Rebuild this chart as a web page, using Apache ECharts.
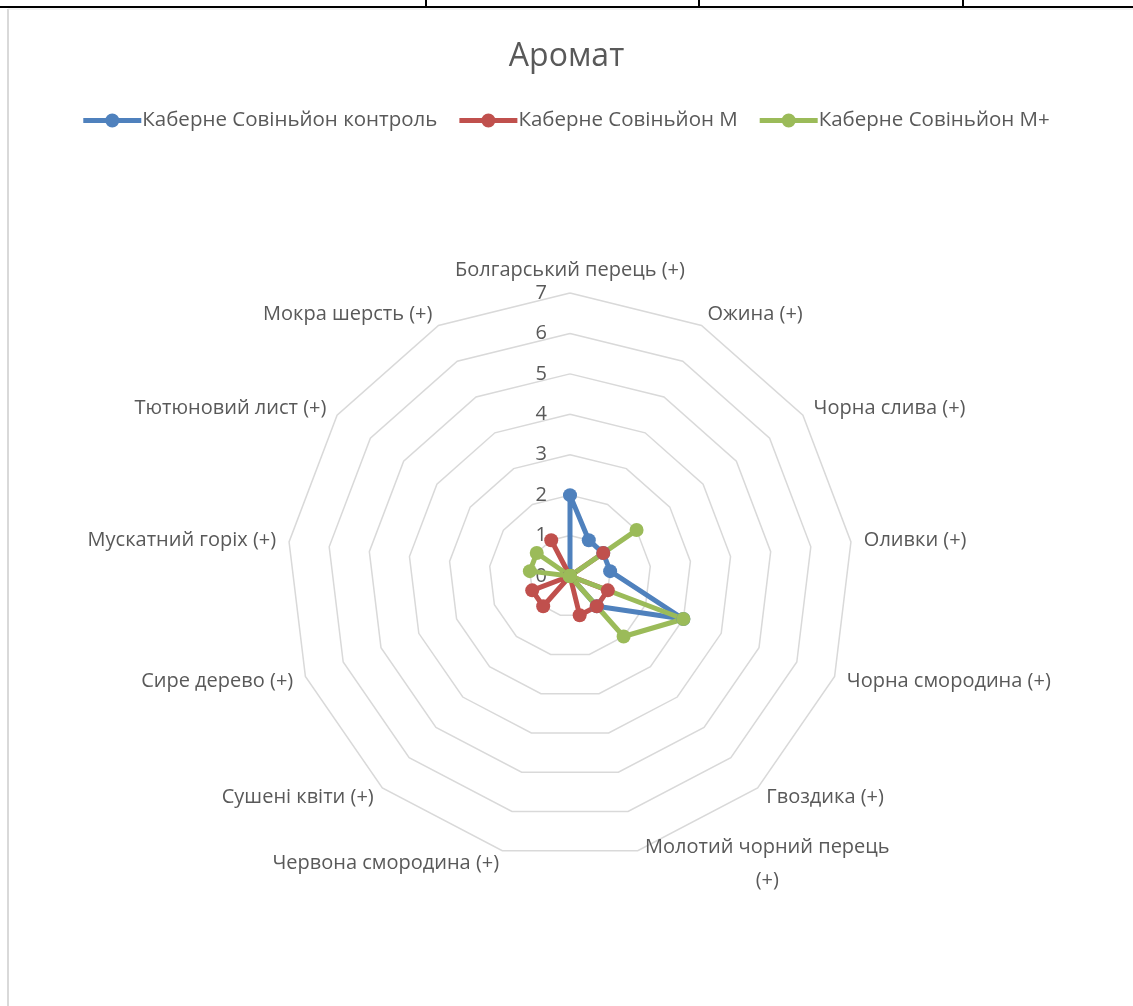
<!DOCTYPE html>
<html>
<head>
<meta charset="utf-8">
<title>Аромат</title>
<script src="https://cdn.jsdelivr.net/npm/echarts@6/dist/echarts.min.js"></script>
<style>
  html, body { margin: 0; padding: 0; background: #ffffff; }
  #chart { width: 1133px; height: 1006px; }
</style>
</head>
<body>
<div id="chart"></div>
<script>
// Aroma descriptors, clockwise from the top
const categories = [
  'Болгарський перець (+)',
  'Ожина (+)',
  'Чорна слива (+)',
  'Оливки (+)',
  'Чорна смородина (+)',
  'Гвоздика (+)',
  'Молотий чорний перець\n(+)',
  'Червона смородина (+)',
  'Сушені квіти (+)',
  'Сире дерево (+)',
  'Мускатний горіх (+)',
  'Тютюновий лист (+)',
  'Мокра шерсть (+)'
];

const seriesNames = ['Каберне Совіньйон контроль', 'Каберне Совіньйон М', 'Каберне Совіньйон М+'];
const controlValues = [2, 1, 1, 1, 3, 1, 0, 0, 0, 0, 0, 0, 0];
const mValues       = [0, 0, 1, 0, 1, 1, 1, 0, 1, 1, 0, 0, 1];
const mPlusValues   = [0, 0, 2, 0, 3, 2, 0, 0, 0, 0, 1, 1, 0];
const scaleTicks = [0, 1, 2, 3, 4, 5, 6, 7];

const colors = ['#4f81bd', '#c0504d', '#9bbb59'];
const textColor = '#595959';
const font = 'Open Sans';
const labelSize = 20;

// ECharts lays radar indicators out counter-clockwise; reorder so they read clockwise
const order = [0].concat(categories.map((_, i) => i).slice(1).reverse());
const reorder = arr => order.map(i => arr[i]);

const maxVal = scaleTicks[scaleTicks.length - 1];
const indicators = reorder(categories).map((name, k) => {
  const ind = { name: name, min: scaleTicks[0], max: maxVal };
  if (k === 0) {
    ind.axisLabel = { show: true, color: textColor, fontSize: labelSize, fontFamily: font, margin: 23 };
  }
  return ind;
});

const allValues = [controlValues, mValues, mPlusValues];

// legend marker: a thick line with a dot in the middle
const legendIcon = 'path://M0,4.5 L58,4.5 L58,9.5 L0,9.5 Z M22,7 A7,7 0 1 1 36,7 A7,7 0 1 1 22,7 Z';

const chart = echarts.init(document.getElementById('chart'), null, { renderer: 'canvas' });

chart.setOption({
  backgroundColor: '#ffffff',
  animation: false,
  color: colors,
  title: {
    text: 'Аромат',
    left: 'center',
    top: 36,
    textStyle: { color: textColor, fontSize: 32, fontWeight: 'normal', fontFamily: font }
  },
  legend: {
    top: 105,
    left: 'center',
    icon: legendIcon,
    itemWidth: 58,
    itemHeight: 14,
    itemGap: 22,
    textStyle: { color: textColor, fontSize: 20.5, fontFamily: font, padding: [0, 0, 0, -4] },
    data: seriesNames
  },
  radar: {
    center: [570, 576],
    radius: 283,
    startAngle: 90,
    shape: 'polygon',
    splitNumber: scaleTicks.length - 1,
    indicator: indicators,
    axisName: {
      color: textColor,
      fontSize: labelSize,
      fontFamily: font,
      formatter: function (name) {
        if (name.indexOf('\n') >= 0) {
          return name.split('\n').map(s => '{c|' + s + '}').join('\n');
        }
        return name;
      },
      rich: {
        c: { width: 253, align: 'center', color: textColor, fontSize: labelSize, fontFamily: font, lineHeight: 33 }
      }
    },
    nameGap: 13,
    axisLine: { show: false },
    axisTick: { show: false },
    axisLabel: { show: false },
    splitLine: { lineStyle: { color: '#d9d9d9', width: 1.5 } },
    splitArea: { show: false }
  },
  series: [{
    type: 'radar',
    symbol: 'circle',
    symbolSize: 14,
    lineStyle: { width: 5 },
    data: allValues.map((vals, i) => ({
      name: seriesNames[i],
      value: reorder(vals),
      itemStyle: { color: colors[i] },
      lineStyle: { color: colors[i], width: 5 }
    }))
  }],
  graphic: [
    // page table rule above the chart frame
    { type: 'line', shape: { x1: 0, y1: 7, x2: 1133, y2: 7 }, style: { stroke: '#000', lineWidth: 2 } },
    { type: 'line', shape: { x1: 426, y1: 0, x2: 426, y2: 7 }, style: { stroke: '#000', lineWidth: 2 } },
    { type: 'line', shape: { x1: 699, y1: 0, x2: 699, y2: 7 }, style: { stroke: '#000', lineWidth: 2 } },
    { type: 'line', shape: { x1: 963, y1: 0, x2: 963, y2: 7 }, style: { stroke: '#000', lineWidth: 2 } },
    // chart frame left edge
    { type: 'line', shape: { x1: 8, y1: 9, x2: 8, y2: 1006 }, style: { stroke: '#d9d9d9', lineWidth: 2 } },
    { type: 'line', shape: { x1: 8, y1: 9, x2: 1133, y2: 9 }, style: { stroke: '#e6e6e6', lineWidth: 1 } }
  ]
});
</script>
</body>
</html>
